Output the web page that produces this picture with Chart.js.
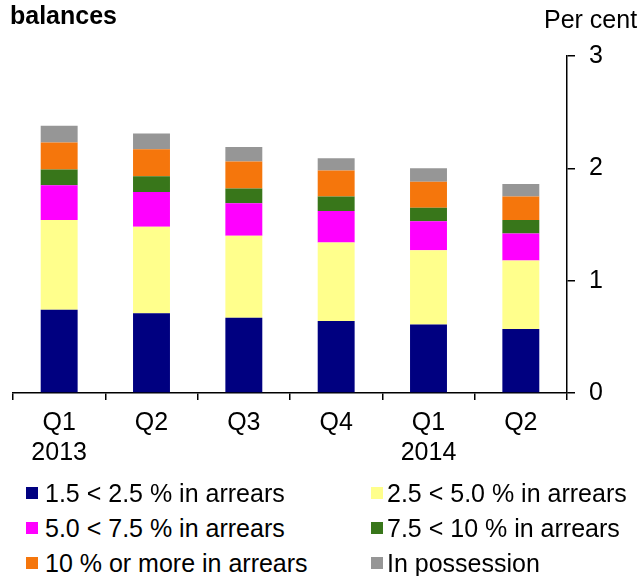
<!DOCTYPE html>
<html>
<head>
<meta charset="utf-8">
<script src="https://cdn.jsdelivr.net/npm/chart.js@4"></script>
<style>
  body { margin: 0; background: #fff; }
  #wrap { position: relative; width: 639px; height: 576px; font-family: "Liberation Sans", Arial, sans-serif; color: #000; }
  #myChart { position: absolute; left: 0; top: 0; }
  .txt { position: absolute; font-size: 25px; line-height: 28px; white-space: nowrap; }
  .leg { position: absolute; font-size: 25px; line-height: 28px; white-space: nowrap; }
  .leg span.box { position: absolute; width: 12px; height: 12px; top: 8px; }
</style>
</head>
<body>
<div id="wrap">
  <canvas id="myChart" width="639" height="480"></canvas>
  <div class="txt" style="left:10px; top:1px; font-weight:bold;">balances</div>
  <div class="txt" style="left:544px; top:5px;">Per cent</div>
  <div id="legend"></div>
</div>
<script>
// categories
const quarters = ['Q1', 'Q2', 'Q3', 'Q4', 'Q1', 'Q2'];
const years = ['2013', '', '', '', '2014', ''];

// series (per cent of balances)
const arrears1 = [0.74, 0.71, 0.67, 0.64, 0.61, 0.57];
const arrears2 = [0.80, 0.77, 0.73, 0.70, 0.66, 0.61];
const arrears3 = [0.31, 0.31, 0.29, 0.28, 0.26, 0.24];
const arrears4 = [0.14, 0.14, 0.13, 0.13, 0.12, 0.12];
const arrears5 = [0.24, 0.24, 0.24, 0.23, 0.23, 0.21];
const possession = [0.15, 0.14, 0.13, 0.11, 0.12, 0.11];

const seriesNames = ['1.5 < 2.5 % in arrears', '2.5 < 5.0 % in arrears', '5.0 < 7.5 % in arrears',
                     '7.5 < 10 % in arrears', '10 % or more in arrears', 'In possession'];
const yTicks = [0, 1, 2, 3];

const colors = ['#000080', '#ffff8c', '#ff00ff', '#38761a', '#f5760c', '#969696'];
const allData = [arrears1, arrears2, arrears3, arrears4, arrears5, possession];

const labels = quarters.map((q, i) => years[i] ? [q, years[i]] : q);

const ctx = document.getElementById('myChart');
const font = { family: '"Liberation Sans", Arial, sans-serif', size: 25, lineHeight: 1.2 };

const chart = new Chart(ctx, {
  type: 'bar',
  data: {
    labels: labels,
    datasets: allData.map((d, i) => ({
      label: seriesNames[i],
      data: d,
      backgroundColor: colors[i],
      borderWidth: 0,
      barPercentage: 0.4,
      categoryPercentage: 1
    }))
  },
  options: {
    responsive: false,
    animation: false,
    layout: { padding: { left: 13, top: 56, right: 0, bottom: 0 } },
    plugins: {
      legend: { display: false },
      tooltip: { enabled: false }
    },
    scales: {
      x: {
        stacked: true,
        afterFit: (s) => { s.height = 87; },
        grid: { drawOnChartArea: false, drawTicks: true, tickLength: 7, color: '#000', lineWidth: 1.5, offset: true },
        border: { display: true, color: '#000', width: 1.5 },
        ticks: { color: '#000', font: font, padding: 8, maxRotation: 0, autoSkip: false }
      },
      y: {
        stacked: true,
        position: 'right',
        min: yTicks[0],
        max: yTicks[yTicks.length - 1],
        afterFit: (s) => { s.width = 72; },
        afterBuildTicks: (s) => { s.ticks = yTicks.map(v => ({ value: v })); },
        grid: { drawOnChartArea: false, drawTicks: true, tickLength: 8, color: '#000', lineWidth: 1.5 },
        border: { display: true, color: '#000', width: 1.5 },
        ticks: { color: '#000', font: font, padding: 14 }
      }
    }
  }
});

// legend in two columns, built from the datasets
const legend = document.getElementById('legend');
chart.data.datasets.forEach((ds, i) => {
  const col = i % 2, row = Math.floor(i / 2);
  const item = document.createElement('div');
  item.className = 'leg';
  item.style.left = (col ? 371 : 26) + 'px';
  item.style.top = (479 + row * 35) + 'px';
  item.style.paddingLeft = (col ? 16 : 19) + 'px';
  const box = document.createElement('span');
  box.className = 'box';
  box.style.left = '0px';
  box.style.background = ds.backgroundColor;
  item.appendChild(box);
  item.appendChild(document.createTextNode(ds.label));
  legend.appendChild(item);
});
</script>
</body>
</html>
